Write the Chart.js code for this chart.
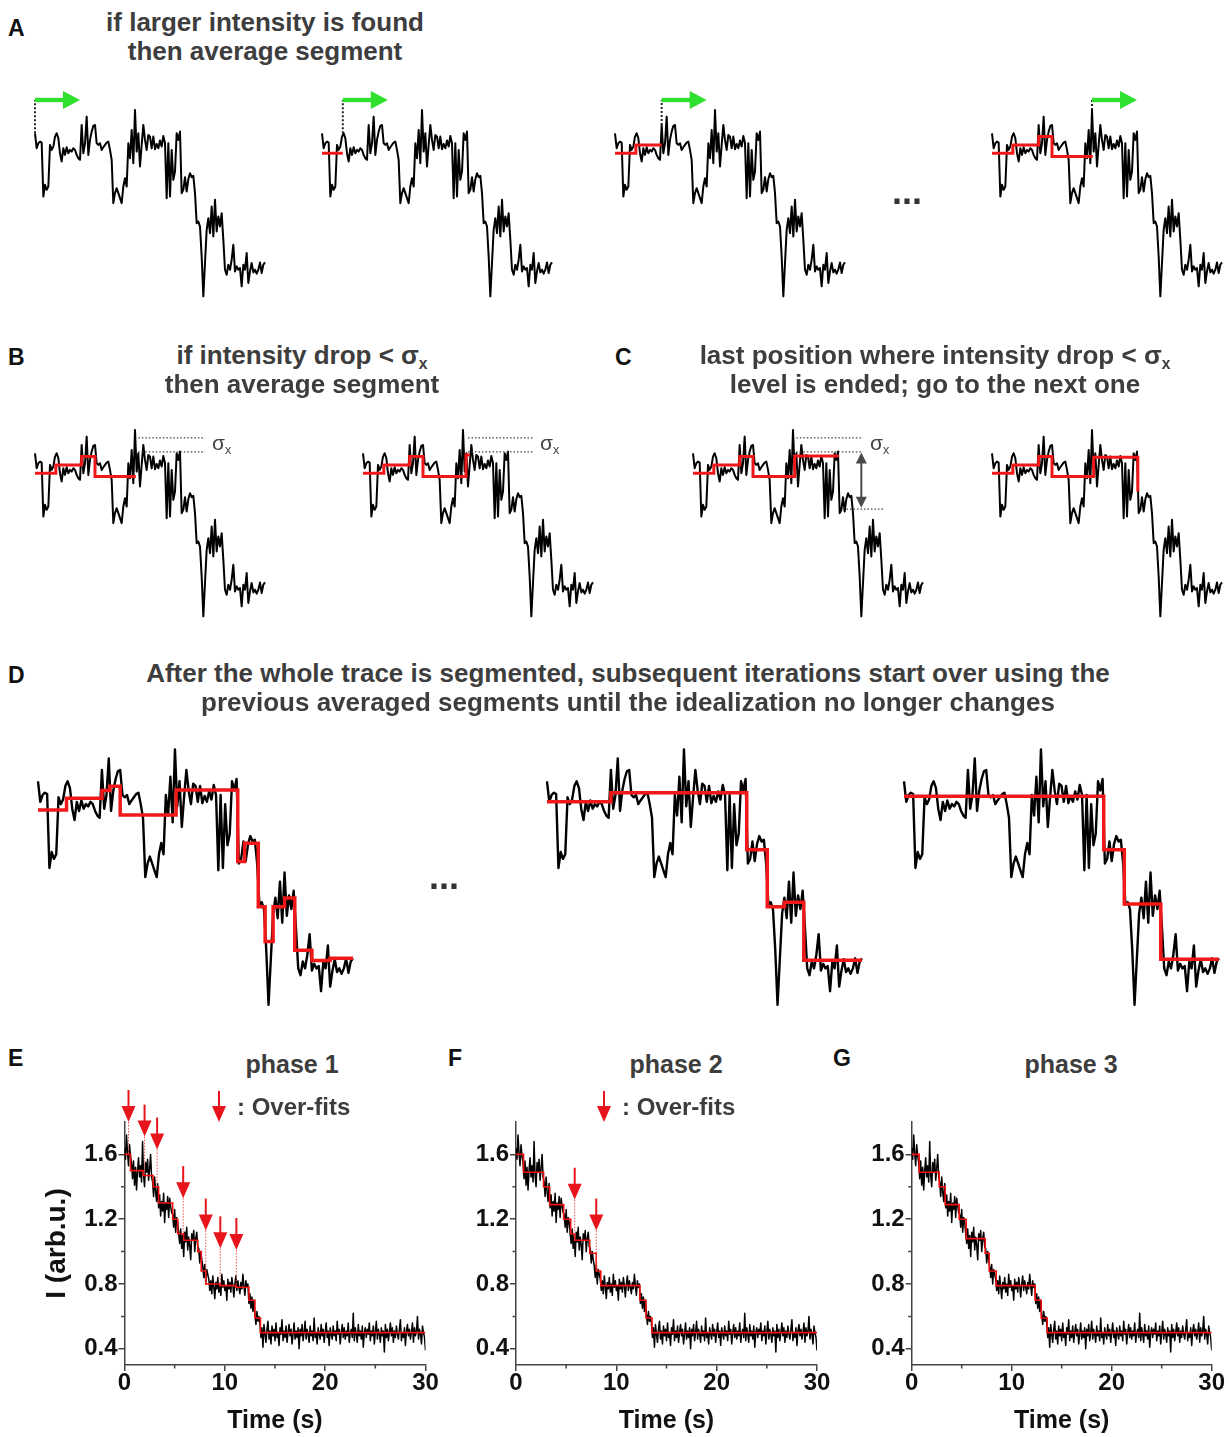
<!DOCTYPE html>
<html>
<head>
<meta charset="utf-8">
<script src="https://cdn.jsdelivr.net/npm/chart.js@4.4.1/dist/chart.umd.min.js"></script>
<style>
  html, body { margin: 0; padding: 0; background: #fff; }
  body { width: 1229px; height: 1437px; position: relative; overflow: hidden;
         font-family: "Liberation Sans", Arial, Helvetica, sans-serif; }
  canvas { position: absolute; }
  .t { position: absolute; white-space: nowrap; line-height: 1; }
  .sx { font-size: 0.6em; position: relative; top: 0.3em; }
</style>
</head>
<body>
<script>
// ---------- cartoon trace used in the idealization sketches (arbitrary units) ----------
const cartoonTrace = [
  5.10, 4.65, 4.80, 4.85, 4.82, 3.20, 3.55, 3.40, 3.50, 4.75,
  4.60, 4.70, 5.00, 5.10, 4.95, 4.50, 4.25, 4.65, 4.45, 4.68,
  4.50, 4.60, 4.55, 4.65, 4.60, 4.45, 4.35, 4.30, 5.35, 4.50,
  4.80, 5.60, 4.45, 4.90, 5.15, 5.32, 5.35, 4.80, 4.75, 4.80,
  4.60, 4.68, 4.75, 4.82, 4.85, 4.60, 4.30, 3.00, 3.30, 3.45,
  3.30, 3.15, 3.00, 3.50, 3.75, 3.50, 4.80, 4.35, 5.20, 4.20,
  5.80, 4.55, 5.10, 4.10, 4.75, 5.35, 4.90, 4.60, 5.05, 5.00,
  4.65, 5.00, 4.62, 4.78, 4.65, 4.88, 4.70, 5.02, 4.80, 3.15,
  4.80, 3.20, 4.60, 3.70, 3.95, 5.10, 4.90, 5.15, 3.30, 3.40,
  3.78, 3.35, 3.72, 3.90, 3.78, 3.82, 3.30, 2.40, 2.45, 2.30,
  1.40, 0.20, 1.20, 2.20, 2.55, 2.10, 2.90, 2.00, 3.10, 2.15,
  2.60, 2.30, 2.70, 1.90, 1.00, 0.85, 1.15, 1.00, 1.30, 1.75,
  0.95, 1.10, 1.00, 1.05, 0.50, 1.15, 1.00, 1.50, 0.60, 0.95,
  1.20, 0.92, 1.00, 0.88, 1.00, 1.22, 0.90, 1.15, 1.22
];

// segment averages at successive stages (edges in sample index, one level per segment)
const stage1Edges = [0, 12.5];
const stage1Levels = [4.5];
const stage2Edges = [0, 12.5, 28];
const stage2Levels = [4.5, 4.75];
const stage3Edges = [0, 12.5, 28, 36, 60.5];
const stage3Levels = [4.5, 4.75, 5.0, 4.4];
const stage4Edges = [0, 12.5, 28, 36, 61.8, 64.2];
const stage4Levels = [4.5, 4.75, 5.0, 4.4, 5.05];
const stage5Edges = [0, 12.5, 28, 36, 61, 87.5];
const stage5Levels = [4.5, 4.75, 5.0, 4.4, 5.02];
const stage6Levels = [4.5, 4.75, 5.0, 4.4, 4.98];
const stage6Drop = 3.95;

const iterFirstEdges = [0, 12.5, 28, 31.5, 36, 60.5, 87.5, 90.5, 96.5, 99.5, 103, 108, 112.5, 120, 128, 138];
const iterFirstLevels = [4.47, 4.73, 4.90, 4.99, 4.36, 4.91, 3.34, 3.74, 2.35, 1.59, 2.35, 2.54, 1.40, 1.17, 1.22];
const iterLateEdges = [0, 28, 87.5, 96.5, 104, 112.5, 138];
const iterLateLevels = [4.65, 4.85, 3.60, 2.35, 2.45, 1.18];
const iterFinalEdges = [0, 87.5, 96.5, 112.5, 138];
const iterFinalLevels = [4.77, 3.60, 2.41, 1.20];

// ---------- photobleaching trace, intensity (arb.u.) sampled every 0.1 s ----------
const sampleInterval = 0.1;
const intensity = [
  1.64, 1.57, 1.72, 1.61, 1.53, 1.66, 1.59, 1.55,
  1.45, 1.56, 1.41, 1.52, 1.38, 1.50, 1.58, 1.46, 1.53, 1.43, 1.68, 1.47, 1.40, 1.55, 1.49, 1.57, 1.44, 1.51, 1.60, 1.46,
  1.43, 1.34, 1.46, 1.37, 1.31, 1.42,
  1.27, 1.35, 1.22, 1.31, 1.25, 1.36, 1.18, 1.30, 1.26, 1.34, 1.21, 1.33, 1.28, 1.24,
  1.23, 1.15, 1.26, 1.12, 1.21, 1.18, 1.11,
  1.05, 1.14, 1.02, 1.10, 0.97, 1.12, 1.06, 1.15, 1.01, 1.09, 1.04, 0.95, 1.11, 1.07, 1.13, 1.00, 1.08, 1.12, 1.03,
  1.02, 0.93, 1.00, 0.95,
  0.91, 0.84, 0.92, 0.80, 0.89, 0.86, 0.83,
  0.76, 0.82, 0.74, 0.85, 0.78, 0.71, 0.81, 0.77, 0.84, 0.75, 0.80, 0.73, 0.86, 0.78, 0.82, 0.76, 0.79, 0.70, 0.83, 0.77,
  0.81, 0.75, 0.84, 0.79, 0.72, 0.80, 0.85, 0.76, 0.82, 0.78, 0.74, 0.81, 0.77, 0.86, 0.79, 0.73, 0.82, 0.78, 0.80,
  0.68, 0.74, 0.65, 0.72, 0.63, 0.70,
  0.61, 0.55, 0.63, 0.57, 0.60, 0.56,
  0.47, 0.53, 0.41, 0.55, 0.49, 0.44, 0.52, 0.57, 0.46, 0.51, 0.43, 0.54, 0.48, 0.52, 0.45,
  0.56, 0.47, 0.50, 0.42, 0.53, 0.49, 0.58, 0.45, 0.51, 0.47, 0.54, 0.44, 0.50, 0.55, 0.48,
  0.52, 0.43, 0.49, 0.56, 0.46, 0.51, 0.47, 0.53, 0.40, 0.52, 0.48, 0.55, 0.45, 0.50, 0.57,
  0.46, 0.52, 0.49, 0.44, 0.54, 0.48, 0.51, 0.45, 0.59, 0.47, 0.50, 0.43, 0.53, 0.49, 0.46,
  0.55, 0.48, 0.52, 0.44, 0.50, 0.56, 0.47, 0.51, 0.42, 0.53, 0.49, 0.46, 0.54, 0.48, 0.51,
  0.45, 0.57, 0.49, 0.52, 0.43, 0.50, 0.55, 0.47, 0.53, 0.46, 0.51, 0.48, 0.56, 0.44, 0.50,
  0.52, 0.47, 0.62, 0.45, 0.53, 0.49, 0.44, 0.55, 0.48, 0.51, 0.46, 0.54, 0.41, 0.50, 0.53,
  0.47, 0.52, 0.49, 0.56, 0.45, 0.51, 0.48, 0.54, 0.43, 0.50, 0.57, 0.46, 0.52, 0.49, 0.44,
  0.53, 0.48, 0.51, 0.38, 0.55, 0.47, 0.52, 0.45, 0.50, 0.56, 0.48, 0.53, 0.44, 0.51, 0.47,
  0.54, 0.49, 0.46, 0.52, 0.58, 0.45, 0.50, 0.47, 0.53, 0.42, 0.51, 0.55, 0.48, 0.52, 0.46,
  0.50, 0.56, 0.44, 0.53, 0.48, 0.51, 0.60, 0.46, 0.52, 0.49, 0.43, 0.54, 0.50, 0.47, 0.39
];

// idealized levels for the three phases (edges in seconds)
const phase1Edges = [0, 0.6, 1.85, 2.85, 3.4, 4.8, 5.3, 5.9, 7.3, 7.65, 8.1, 9.5, 11.1, 12.4, 13.0, 13.55, 30];
const phase1Levels = [1.60, 1.50, 1.47, 1.40, 1.30, 1.20, 1.11, 1.07, 1.00, 0.88, 0.80, 0.79, 0.78, 0.70, 0.59, 0.50];
const phase2Edges = [0, 0.75, 2.75, 3.35, 4.75, 5.45, 5.85, 7.35, 8.0, 8.45, 12.35, 12.95, 13.55, 30];
const phase2Levels = [1.60, 1.49, 1.40, 1.29, 1.20, 1.11, 1.07, 0.99, 0.88, 0.79, 0.70, 0.59, 0.50];
const phase3Edges = [0, 0.75, 2.75, 3.35, 4.75, 5.45, 7.35, 7.75, 8.45, 12.35, 12.95, 13.55, 30];
const phase3Levels = [1.60, 1.49, 1.40, 1.29, 1.20, 1.08, 0.99, 0.88, 0.79, 0.70, 0.59, 0.50];

// over-fit markers: time (s) and arrow-tip intensity
const overfit1Times = [0.4, 2.0, 3.25, 5.85, 8.1, 9.55, 11.15];
const overfit1Tips = [1.80, 1.71, 1.63, 1.33, 1.13, 1.02, 1.01];
const overfit2Times = [5.85, 8.0];
const overfit2Tips = [1.32, 1.13];

// axis ticks
const timeTicks = [0, 10, 20, 30];
const timeMinorTicks = [5, 15, 25];
const intensityTicks = [0.4, 0.8, 1.2, 1.6];
const intensityMinorTicks = [0.6, 1.0, 1.4];

// ---------- helpers ----------
Chart.defaults.font.family = '"Liberation Sans", Arial, Helvetica, sans-serif';
const RED = '#f01818';

function stepPoints(edges, levels, tail) {
  const pts = levels.map((l, k) => ({ x: edges[k], y: l }));
  pts.push({ x: edges[edges.length - 1], y: levels[levels.length - 1] });
  if (tail != null) pts.push({ x: edges[edges.length - 1], y: tail });
  return pts;
}
function levelAt(edges, levels, t) {
  for (let k = 0; k < levels.length; k++) if (t >= edges[k] && t < edges[k + 1]) return levels[k];
  return levels[levels.length - 1];
}

const overlayItems = {};
const overlayPlugin = {
  id: 'overlays',
  afterDatasetsDraw(chart) {
    const items = overlayItems[chart.canvas.id];
    if (!items) return;
    const ctx = chart.ctx;
    const X = v => chart.scales.x.getPixelForValue(v);
    const Y = v => chart.scales.y.getPixelForValue(v);
    ctx.save();
    for (const it of items) {
      if (it.kind === 'dotH') {
        ctx.strokeStyle = '#444'; ctx.lineWidth = 1.3; ctx.setLineDash([1.5, 2]);
        ctx.beginPath(); ctx.moveTo(X(it.x1), Y(it.y)); ctx.lineTo(X(it.x2), Y(it.y)); ctx.stroke();
      } else if (it.kind === 'dotV') {
        ctx.strokeStyle = '#222'; ctx.lineWidth = 2; ctx.setLineDash([2, 2]);
        ctx.beginPath(); ctx.moveTo(X(it.x), Y(it.y1)); ctx.lineTo(X(it.x), Y(it.y2)); ctx.stroke();
      } else if (it.kind === 'green') {
        const x0 = X(it.x), x1 = X(it.x + it.len), y = Y(it.y);
        ctx.setLineDash([]);
        ctx.fillStyle = '#2fe02f';
        ctx.fillRect(x0, y - 2.2, (x1 - x0) - 14, 4.4);
        ctx.beginPath(); ctx.moveTo(x1 - 17, y - 9); ctx.lineTo(x1, y); ctx.lineTo(x1 - 17, y + 9); ctx.closePath(); ctx.fill();
      } else if (it.kind === 'dbl') {
        const x = X(it.x), y1 = Y(it.y1), y2 = Y(it.y2);
        ctx.setLineDash([]); ctx.strokeStyle = '#4a4a4a'; ctx.fillStyle = '#4a4a4a'; ctx.lineWidth = 2;
        ctx.beginPath(); ctx.moveTo(x, y1 + 8); ctx.lineTo(x, y2 - 8); ctx.stroke();
        ctx.beginPath(); ctx.moveTo(x - 5.5, y1 + 11); ctx.lineTo(x, y1); ctx.lineTo(x + 5.5, y1 + 11); ctx.closePath(); ctx.fill();
        ctx.beginPath(); ctx.moveTo(x - 5.5, y2 - 11); ctx.lineTo(x, y2); ctx.lineTo(x + 5.5, y2 - 11); ctx.closePath(); ctx.fill();
      } else if (it.kind === 'over') {
        const x = X(it.t), tip = Y(it.tip), base = Y(it.level);
        ctx.strokeStyle = '#f05050'; ctx.lineWidth = 1; ctx.setLineDash([1.5, 1.5]);
        ctx.beginPath(); ctx.moveTo(x, tip); ctx.lineTo(x, base); ctx.stroke();
        ctx.setLineDash([]); ctx.strokeStyle = '#e8141b'; ctx.fillStyle = '#e8141b'; ctx.lineWidth = 2;
        ctx.beginPath(); ctx.moveTo(x, tip - 32); ctx.lineTo(x, tip - 12); ctx.stroke();
        ctx.beginPath(); ctx.moveTo(x - 7, tip - 16); ctx.lineTo(x + 7, tip - 16); ctx.lineTo(x, tip); ctx.closePath(); ctx.fill();
      }
    }
    ctx.restore();
  }
};

const minorTickPlugin = {
  id: 'minorTicks',
  afterDraw(chart) {
    const { ctx, chartArea: a, scales: { x, y } } = chart;
    ctx.save();
    ctx.strokeStyle = '#444'; ctx.lineWidth = 1.5; ctx.beginPath();
    timeMinorTicks.forEach(t => { const px = x.getPixelForValue(t); ctx.moveTo(px, a.bottom); ctx.lineTo(px, a.bottom + 3.5); });
    intensityMinorTicks.forEach(v => { const py = y.getPixelForValue(v); ctx.moveTo(a.left, py); ctx.lineTo(a.left - 3.5, py); });
    ctx.stroke(); ctx.restore();
  }
};

function makeCanvas(id, left, top, w, h) {
  const c = document.createElement('canvas');
  c.id = id; c.width = Math.round(w); c.height = Math.round(h);
  c.style.left = left + 'px'; c.style.top = top + 'px';
  document.body.appendChild(c);
  return c;
}

// small sketch of the cartoon trace with an optional step fit
function sketch(id, x0, yTop, w, h, edges, levels, tail, lw, items) {
  const P = 14;
  const c = makeCanvas(id, x0 - P, yTop - P, w + 2 * P, h + 2 * P);
  const datasets = [];
  if (edges) datasets.push({ data: stepPoints(edges, levels, tail), borderColor: RED, borderWidth: lw[1],
    stepped: 'before', pointRadius: 0, fill: false, clip: false, borderJoinStyle: 'miter' });
  datasets.push({ data: cartoonTrace.map((v, i) => ({ x: i, y: v })), borderColor: '#000', borderWidth: lw[0],
    pointRadius: 0, tension: 0, fill: false, clip: false, borderJoinStyle: 'round' });
  if (items) overlayItems[id] = items;
  new Chart(c, {
    type: 'line',
    data: { datasets },
    options: {
      responsive: false, animation: false, events: [],
      layout: { padding: P },
      plugins: { legend: { display: false }, tooltip: { enabled: false } },
      scales: {
        x: { type: 'linear', display: false, min: 0, max: cartoonTrace.length - 1 },
        y: { type: 'linear', display: false, min: 0, max: 6.4 }
      }
    },
    plugins: [overlayPlugin]
  });
}

// full chart with axes for the three phases
function phaseChart(id, left, width, axisLeft, axisRight, yTitle, edges, levels, overT, overTip) {
  const top = 1080, height = 357;
  const c = makeCanvas(id, left, top, width, height);
  if (overT) overlayItems[id] = overT.map((t, k) => ({ kind: 'over', t, tip: overTip[k], level: levelAt(edges, levels, t) }));
  const tickFont = { size: 24, weight: 'bold', lineHeight: 1 };
  new Chart(c, {
    type: 'line',
    data: {
      datasets: [
        { data: stepPoints(edges, levels), borderColor: '#f01010', borderWidth: 1.6, stepped: 'before', pointRadius: 0, fill: false },
        { data: intensity.map((v, i) => ({ x: i * sampleInterval, y: v })), borderColor: '#000', borderWidth: 1.5,
          pointRadius: 0, tension: 0, fill: false, borderJoinStyle: 'round' }
      ]
    },
    options: {
      responsive: false, animation: false, events: [],
      layout: { padding: { left: 0, top: 42, bottom: 0, right: left + width - axisRight } },
      plugins: { legend: { display: false }, tooltip: { enabled: false } },
      scales: {
        x: {
          type: 'linear', min: 0, max: 30,
          afterBuildTicks: s => { s.ticks = timeTicks.map(v => ({ value: v })); },
          afterFit: s => { s.height = 72; },
          grid: { drawOnChartArea: false, drawTicks: true, tickLength: 6, color: '#444', lineWidth: 1.5 },
          border: { display: true, color: '#444', width: 1.5 },
          ticks: { font: tickFont, color: '#111', padding: 0, maxRotation: 0, autoSkip: false },
          title: { display: true, text: 'Time (s)', color: '#111', font: { size: 25, weight: 'bold', lineHeight: 1.2 }, padding: { top: 0, bottom: 1 } }
        },
        y: {
          type: 'linear', min: 0.3, max: 1.8,
          afterBuildTicks: s => { s.ticks = intensityTicks.map(v => ({ value: v })); },
          afterFit: s => { s.width = axisLeft - left; },
          grid: { drawOnChartArea: false, drawTicks: true, tickLength: 6, color: '#444', lineWidth: 1.5 },
          border: { display: true, color: '#444', width: 1.5 },
          ticks: { font: tickFont, color: '#111', padding: 1, callback: v => v.toFixed(1) },
          title: { display: yTitle, text: 'I (arb.u.)', color: '#111', font: { size: 28, weight: 'bold', lineHeight: 1.2 }, padding: { top: 20, bottom: 0 } }
        }
      }
    },
    plugins: [overlayPlugin, minorTickPlugin]
  });
}

function addText(html, cx, base, size, opt = {}) {
  const d = document.createElement('div');
  d.className = 't';
  d.innerHTML = html;
  d.style.fontSize = size + 'px';
  d.style.top = (base - 0.8465 * size) + 'px';
  d.style.fontWeight = opt.weight || 'bold';
  d.style.color = opt.color || '#3d3d3d';
  if (opt.left != null) d.style.left = opt.left + 'px';
  else { d.style.left = (cx - 600) + 'px'; d.style.width = '1200px'; d.style.textAlign = 'center'; }
  document.body.appendChild(d);
}

// ---------- panel A: search for a larger intensity ----------
const AW = 230, AH = 213.33;
sketch('a1', 35, 90, AW, AH, null, null, null, [2, 3],
  [{ kind: 'dotV', x: 0, y1: cartoonTrace[0], y2: 6.1 }, { kind: 'green', x: 0, y: 6.1, len: 27 }]);
sketch('a2', 322, 90, AW, AH, stage1Edges, stage1Levels, null, [2, 3],
  [{ kind: 'dotV', x: 12.5, y1: cartoonTrace[13], y2: 6.1 }, { kind: 'green', x: 12.5, y: 6.1, len: 27 }]);
sketch('a3', 615, 90, AW, AH, stage2Edges, stage2Levels, null, [2, 3],
  [{ kind: 'dotV', x: 28, y1: cartoonTrace[28], y2: 6.1 }, { kind: 'green', x: 28, y: 6.1, len: 27 }]);
sketch('a4', 992, 90, AW, AH, stage3Edges, stage3Levels, null, [2, 3],
  [{ kind: 'dotV', x: 60, y1: cartoonTrace[60], y2: 6.1 }, { kind: 'green', x: 60, y: 6.1, len: 27 }]);

// ---------- panels B and C: tolerance sigma_x ----------
sketch('b1', 35, 410, AW, AH, stage3Edges, stage3Levels, null, [2, 3],
  [{ kind: 'dotH', y: 5.56, x1: 62, x2: 102 }, { kind: 'dotH', y: 5.14, x1: 62, x2: 102 }]);
sketch('b2', 363, 410, AW, AH, stage4Edges, stage4Levels, null, [2, 3],
  [{ kind: 'dotH', y: 5.56, x1: 63, x2: 102 }, { kind: 'dotH', y: 5.14, x1: 63, x2: 102 }]);
sketch('c1', 693, 410, AW, AH, stage5Edges, stage5Levels, null, [2, 3],
  [{ kind: 'dotH', y: 5.56, x1: 62, x2: 102 }, { kind: 'dotH', y: 5.14, x1: 62, x2: 102 },
   { kind: 'dotH', y: 3.42, x1: 90, x2: 114 }, { kind: 'dbl', x: 101, y1: 5.12, y2: 3.46 }]);
sketch('c2', 992, 410, AW, AH, stage5Edges, stage6Levels, stage6Drop, [2, 3], null);

// ---------- panel D: iterations ----------
sketch('d1', 38.3, 722, 315, 292, iterFirstEdges, iterFirstLevels, null, [2.4, 3.5], null);
sketch('d2', 547, 722, 315, 292, iterLateEdges, iterLateLevels, null, [2.4, 3.5], null);
sketch('d3', 903.5, 722, 315, 292, iterFinalEdges, iterFinalLevels, null, [2.4, 3.5], null);

// ---------- panels E, F, G ----------
phaseChart('e', 20, 430, 124.5, 425.5, true, phase1Edges, phase1Levels, overfit1Times, overfit1Tips);
phaseChart('f', 455, 385, 516, 817, false, phase2Edges, phase2Levels, overfit2Times, overfit2Tips);
phaseChart('g', 850, 379, 911.7, 1211.7, false, phase3Edges, phase3Levels, null, null);

// ---------- text ----------
addText('A', null, 36, 23, { left: 8, color: '#111' });
addText('B', null, 365, 23, { left: 8, color: '#111' });
addText('C', null, 365, 23, { left: 615, color: '#111' });
addText('D', null, 683, 23, { left: 8, color: '#111' });
addText('E', null, 1066, 23, { left: 8, color: '#111' });
addText('F', null, 1066, 23, { left: 448, color: '#111' });
addText('G', null, 1066, 23, { left: 833, color: '#111' });

addText('if larger intensity is found', 265, 31, 26);
addText('then average segment', 265, 60, 26);
addText('if intensity drop &lt; σ<span class="sx">x</span>', 302, 364, 26);
addText('then average segment', 302, 393, 26);
addText('last position where intensity drop &lt; σ<span class="sx">x</span>', 935, 364, 26);
addText('level is ended; go to the next one', 935, 393, 26);
addText('After the whole trace is segmented, subsequent iterations start over using the', 628, 682, 26);
addText('previous averaged segments until the idealization no longer changes', 628, 711, 26);

addText('σ<span class="sx">x</span>', null, 450, 21, { left: 212, weight: 'normal', color: '#444' });
addText('σ<span class="sx">x</span>', null, 450, 21, { left: 540, weight: 'normal', color: '#444' });
addText('σ<span class="sx">x</span>', null, 450, 21, { left: 870, weight: 'normal', color: '#444' });

addText('...', 907, 204, 36, { color: '#333' });
addText('...', 444, 889, 36, { color: '#333' });

addText('phase 1', 292, 1073, 25);
addText('phase 2', 676, 1073, 25);
addText('phase 3', 1071, 1073, 25);
addText(': Over-fits', null, 1115, 24, { left: 237 });
addText(': Over-fits', null, 1115, 24, { left: 622 });

// legend arrows for the over-fit markers
function legendArrow(cx) {
  const ns = 'http://www.w3.org/2000/svg';
  const s = document.createElementNS(ns, 'svg');
  s.setAttribute('width', 16); s.setAttribute('height', 34);
  s.style.position = 'absolute'; s.style.left = (cx - 8) + 'px'; s.style.top = '1090px';
  s.innerHTML = '<line x1="8" y1="1" x2="8" y2="20" stroke="#e8141b" stroke-width="2"/>' +
                '<polygon points="1,16 15,16 8,32" fill="#e8141b"/>';
  document.body.appendChild(s);
}
legendArrow(219);
legendArrow(604);
</script>
</body>
</html>
